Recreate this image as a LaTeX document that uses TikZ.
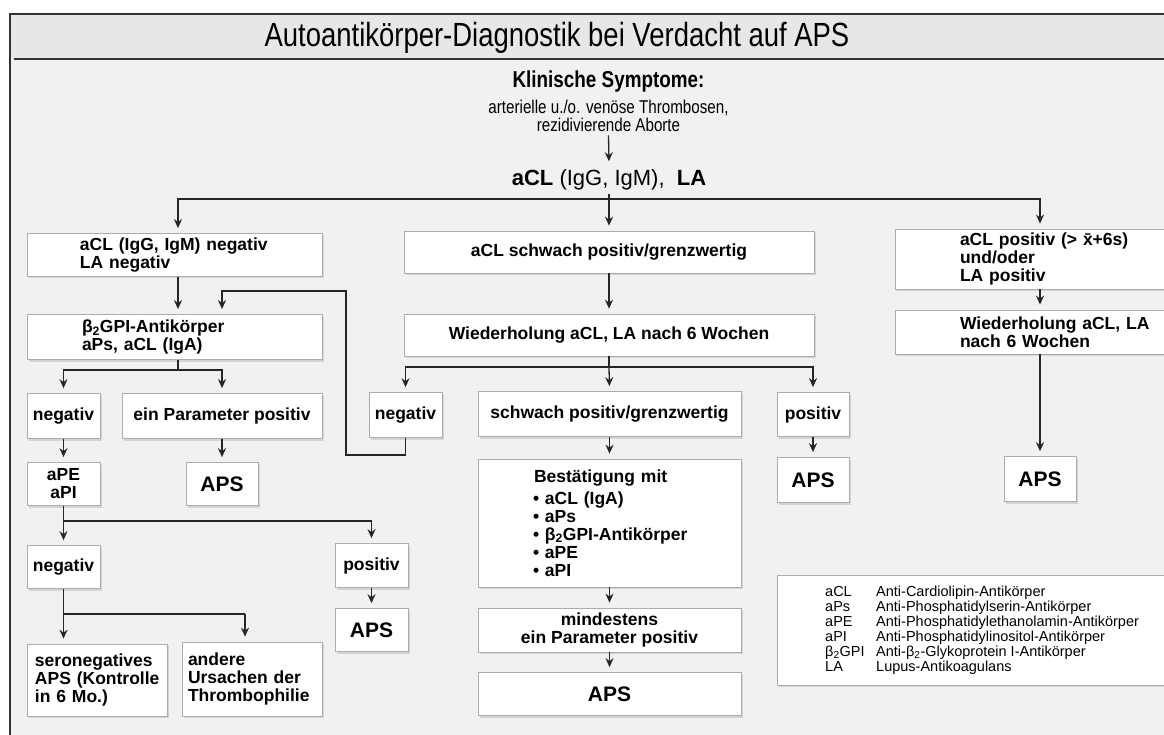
\documentclass[tikz,border=0pt]{standalone}
\usepackage{fontspec}
\setmainfont{Liberation Sans}
\newfontfamily\narrow[FakeStretch=0.82]{Liberation Sans}
\usetikzlibrary{arrows.meta,shadows,calc}
\begin{document}
\begin{tikzpicture}[x=1pt,y=-1pt,
  bx/.style={draw=gray!65, line width=0.7pt, fill=white,
    drop shadow={shadow xshift=2pt,shadow yshift=-2pt,fill=gray!55},
    inner sep=0pt, font=\fontsize{17.5}{18}\selectfont\bfseries, align=center},
  lbx/.style={bx, align=left},
  apsbx/.style={bx, font=\fontsize{21}{22}\selectfont\bfseries},
  ln/.style={draw=black!85, line width=1.3pt},
  arr/.style={ln, -{Stealth[length=9pt,width=8pt]}, shorten >=5pt},
  rule/.style={draw=black!80, line width=1.8pt},
]
\useasboundingbox (0,0) rectangle (1164,735);
\clip (0,0) rectangle (1164,735);
\fill[white] (0,0) rectangle (1164,735);
\fill[gray!11] (10,14) rectangle (1164,735);
\fill[gray!19] (10,14) rectangle (1164,59);
\draw[rule] (14,14) -- (1164,14);
\draw[rule] (14,59) -- (1164,59);
\draw[rule] (16,14) -- (10,14) -- (10,735);

% title and header
\node[font=\narrow\fontsize{33.5}{36}\selectfont] (title) at (557,38) {Autoantikörper-Diagnostik bei Verdacht auf APS};
\node[font=\narrow\fontsize{23}{26}\selectfont\bfseries] (klin) at (608.5,82) {Klinische Symptome:};
\node[font=\narrow\fontsize{18.5}{18}\selectfont, align=center] (sympt) at (608.5,116) {arterielle u./o. venöse Thrombosen,\\rezidivierende Aborte};
\node[font=\fontsize{22}{24}\selectfont] (acl) at (609,180) {\textbf{aCL} (IgG, IgM),\ \ \textbf{LA}};

% left column
\node[lbx, text width=295pt, minimum height=43] (L1) at (174.5,255) {\hspace*{53pt}aCL (IgG, IgM) negativ\\\hspace*{53pt}LA negativ};
\node[lbx, text width=295pt, minimum height=45] (L2) at (174.5,337) {\hspace*{55pt}β\textsubscript{2}GPI-Antikörper\\\hspace*{55pt}aPs, aCL (IgA)};
\node[bx, minimum width=73, minimum height=45] (L3) at (63.5,416) {negativ};
\node[bx, minimum width=200, minimum height=45] (L4) at (222,416) {ein Parameter positiv};
\node[apsbx, minimum width=72, minimum height=43] (L5) at (222,484) {APS};
\node[bx, minimum width=73, minimum height=43] (L6) at (63.5,484) {aPE\\aPI};
\node[bx, minimum width=73, minimum height=43] (L7) at (63.5,567) {negativ};
\node[bx, minimum width=73, minimum height=44] (L8) at (371.5,565.5) {positiv};
\node[apsbx, minimum width=73, minimum height=43] (L9) at (371.5,630) {APS};
\node[lbx, text width=140pt, minimum height=72] (L10) at (97,680) {\hspace*{8pt}seronegatives\\\hspace*{8pt}APS (Kontrolle\\\hspace*{8pt}in 6 Mo.)};
\node[lbx, text width=140pt, minimum height=74] (L11) at (252,679) {\hspace*{6pt}andere\\\hspace*{6pt}Ursachen der\\\hspace*{6pt}Thrombophilie};

% middle column
\node[bx, minimum width=410, minimum height=42] (M1) at (609,252) {aCL schwach positiv/grenzwertig};
\node[bx, minimum width=410, minimum height=42] (M2) at (609,335) {Wiederholung aCL, LA nach 6 Wochen};
\node[bx, minimum width=73, minimum height=45] (M3) at (405.5,415) {negativ};
\node[bx, minimum width=263, minimum height=45] (M4) at (609.5,414) {schwach positiv/grenzwertig};
\node[bx, minimum width=72, minimum height=44] (M5) at (813,414.5) {positiv};
\node[lbx, text width=263pt, minimum height=128] (M6) at (609.5,523) {\hspace*{56pt}Bestätigung mit\\[4pt]\hspace*{55pt}• aCL (IgA)\\\hspace*{55pt}• aPs\\\hspace*{55pt}• β\textsubscript{2}GPI-Antikörper\\\hspace*{55pt}• aPE\\\hspace*{55pt}• aPI};
\node[bx, minimum width=263, minimum height=44] (M7) at (609.5,630) {mindestens\\ein Parameter positiv};
\node[apsbx, minimum width=263, minimum height=43] (M8) at (609.5,694) {APS};
\node[apsbx, minimum width=72, minimum height=45] (M9) at (813,480) {APS};

% right column
\node[lbx, text width=290pt, minimum height=60] (R1) at (1040,259) {\hspace*{65pt}aCL positiv (> \={x}+6s)\\\hspace*{65pt}und/oder\\\hspace*{65pt}LA positiv};
\node[lbx, text width=290pt, minimum height=44] (R2) at (1040,332) {\hspace*{65pt}Wiederholung aCL, LA\\\hspace*{65pt}nach 6 Wochen};
\node[apsbx, minimum width=72, minimum height=45] (R3) at (1040,479) {APS};

% legend
\node[bx, minimum width=408, minimum height=110] (leg) at (981,630) {};
\node[anchor=north west, inner sep=0pt, font=\fontsize{14.5}{15}\selectfont] (legt) at (825,586) {%
\begin{tabular}{@{}p{51pt}@{}l@{}}
aCL & Anti-Cardiolipin-Antikörper\\
aPs & Anti-Phosphatidylserin-Antikörper\\
aPE & Anti-Phosphatidylethanolamin-Antikörper\\
aPI & Anti-Phosphatidylinositol-Antikörper\\
β\textsubscript{2}GPI & Anti-β\textsubscript{2}-Glykoprotein I-Antikörper\\
LA & Lupus-Antikoagulans
\end{tabular}};

% connectors
\draw[arr] (sympt.south) -- (acl.north);
\coordinate (j1) at (609,199);
\draw[ln] (acl.south) -- (j1);
\draw[arr] (j1) -| ([xshift=3.5pt]L1.north);
\draw[arr] (j1) -- (M1.north);
\draw[arr] (j1) -| (R1.north);

\draw[arr] ([xshift=3.5pt]L1.south) -- ([xshift=3.5pt]L2.north);
\coordinate (lp) at (222,291);
\coordinate (lb) at (346,455);
\draw[arr] (M3.south) |- (lb) |- (lp) -- (lp |- L2.north);

\coordinate (j2) at (178,370);
\draw[ln] ([xshift=3.5pt]L2.south) -- (j2);
\draw[arr] (j2) -| (L3.north);
\draw[arr] (j2) -| (L4.north);
\draw[arr] (L4.south) -- (L5.north);
\draw[arr] (L3.south) -- (L6.north);
\coordinate (j3) at (63.5,521);
\draw[ln] (L6.south) -- (j3);
\draw[arr] (j3) -- (L7.north);
\draw[arr] (j3) -| (L8.north);
\draw[arr] (L8.south) -- (L9.north);
\coordinate (j4) at (63.5,614);
\coordinate (j4r) at (245,614);
\draw[ln] (L7.south) -- (j4) -- (j4r);
\draw[arr] (j4) -- (j4 |- L10.north);
\draw[arr] (j4r) -- (j4r |- L11.north);

\draw[arr] (M1.south) -- (M2.north);
\coordinate (j5) at (609,367);
\draw[ln] (M2.south) -- (j5);
\draw[arr] (j5) -| (M3.north);
\draw[arr] (j5) -- (M4.north);
\draw[arr] (j5) -| (M5.north);
\draw[arr] (M4.south) -- (M6.north);
\draw[arr] (M6.south) -- (M7.north);
\draw[arr] (M7.south) -- (M8.north);
\draw[arr] (M5.south) -- (M9.north);

\draw[arr] (R1.south) -- (R2.north);
\draw[arr] (R2.south) -- (R3.north);
\end{tikzpicture}
\end{document}
